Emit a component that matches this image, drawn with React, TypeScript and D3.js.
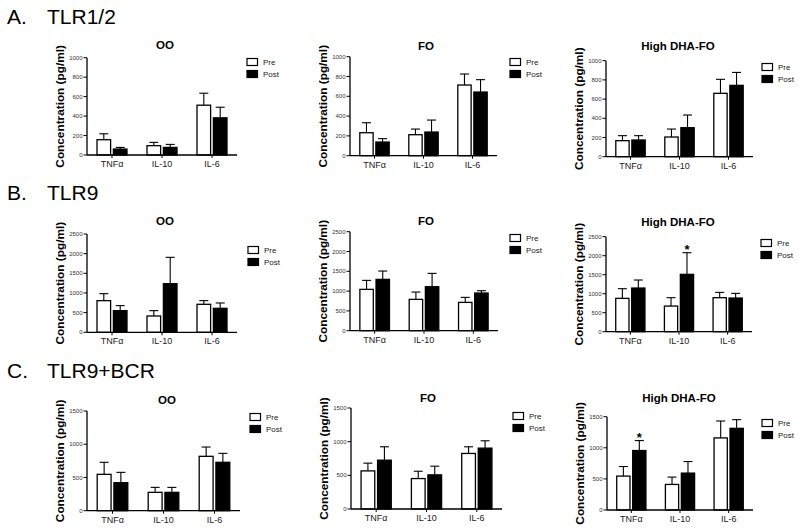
import React from 'react';
import * as d3 from 'd3';

// ---------- data ----------
const categories = ['TNFα', 'IL-10', 'IL-6'];
const seriesNames = ['Pre', 'Post'];
const dietTitles = ['OO', 'FO', 'High DHA-FO'];
const sectionLetters = ['A.', 'B.', 'C.'];
const sectionNames = ['TLR1/2', 'TLR9', 'TLR9+BCR'];
const yMax = [1000, 2500, 1500];
const yTickStep = [200, 500, 500];

// values indexed [diet][category]; diet order: OO, FO, High DHA-FO
const tlr12PreMean = [[157, 96, 512], [232, 212, 714], [167, 205, 660]];
const tlr12PreSem = [[61, 34, 123], [101, 57, 111], [52, 83, 146]];
const tlr12PostMean = [[61, 78, 382], [138, 239, 643], [174, 302, 743]];
const tlr12PostSem = [[17, 31, 109], [34, 121, 125], [45, 132, 135]];

const tlr9PreMean = [[805, 415, 712], [1044, 791, 715], [877, 675, 895]];
const tlr9PreSem = [[178, 136, 93], [227, 185, 127], [255, 220, 140]];
const tlr9PostMean = [[551, 1237, 610], [1296, 1111, 951], [1149, 1509, 886]];
const tlr9PostSem = [[127, 670, 136], [211, 337, 59], [211, 570, 123]];

const bcrPreMean = [[547, 276, 818], [566, 452, 825], [545, 411, 1159]];
const bcrPreSem = [[181, 75, 140], [115, 109, 99], [154, 118, 272]];
const bcrPostMean = [[421, 276, 728], [725, 507, 904], [956, 593, 1313]];
const bcrPostSem = [[156, 75, 135], [199, 129, 109], [160, 186, 139]];

// significance marks (section, diet, category, series)
const sigSection = [1, 2];
const sigDiet = [2, 2];
const sigCategory = [1, 0];
const sigSeries = [1, 1];

const meansBySection = [
  [tlr12PreMean, tlr12PostMean],
  [tlr9PreMean, tlr9PostMean],
  [bcrPreMean, bcrPostMean],
];
const semsBySection = [
  [tlr12PreSem, tlr12PostSem],
  [tlr9PreSem, tlr9PostSem],
  [bcrPreSem, bcrPostSem],
];

// ---------- layout ----------
const sectionBaselines = [24, 200, 378];
const layout = [
  [
    { x0: 87, x1: 237, yTop: 57.7, yZero: 155, legX: 247, legY: 62, titleY: 49, titleX: 165 },
    { x0: 350, x1: 497, yTop: 56.7, yZero: 155.7, legX: 510, legY: 62, titleY: 50, titleX: 426 },
    { x0: 606, x1: 753, yTop: 60.7, yZero: 156.7, legX: 762, legY: 67, titleY: 50, titleX: 678 },
  ],
  [
    { x0: 87, x1: 237, yTop: 234, yZero: 332.3, legX: 248, legY: 250, titleY: 225, titleX: 165 },
    { x0: 350, x1: 498, yTop: 231.7, yZero: 330.7, legX: 510, legY: 238, titleY: 225, titleX: 426 },
    { x0: 606, x1: 752, yTop: 236.7, yZero: 331.7, legX: 761, legY: 243, titleY: 225.5, titleX: 678 },
  ],
  [
    { x0: 87, x1: 240, yTop: 411, yZero: 510.7, legX: 250, legY: 417, titleY: 404, titleX: 167 },
    { x0: 351, x1: 502, yTop: 408, yZero: 509, legX: 513, legY: 416, titleY: 402, titleX: 428 },
    { x0: 607, x1: 753, yTop: 416.7, yZero: 510, legX: 762, legY: 423, titleY: 401.5, titleX: 679 },
  ],
];

const FONT = "'Liberation Sans', Arial, Helvetica, sans-serif";

function Panel({ s, d }: { s: number; d: number }) {
  const L = layout[s][d];
  const y = d3.scaleLinear().domain([0, yMax[s]]).range([L.yZero, L.yTop]);
  const x = d3.scaleBand<string>().domain(categories).range([L.x0, L.x1]).paddingInner(0.4).paddingOuter(0.2);
  const xs = d3.scaleBand<string>().domain(seriesNames).range([0, x.bandwidth()]).paddingInner(0.17);
  const ticks = d3.range(0, yMax[s] + 1, yTickStep[s]);
  const capHalf = 4.5;

  const stars = sigSection
    .map((sec, i) => ({ sec, diet: sigDiet[i], cat: sigCategory[i], ser: sigSeries[i] }))
    .filter((m) => m.sec === s && m.diet === d);

  return (
    <g>
      {/* title */}
      <text x={L.titleX} y={L.titleY} textAnchor="middle" fontSize={11.5} fontWeight="bold" fontFamily={FONT}>
        {dietTitles[d]}
      </text>
      {/* y label */}
      <text
        transform={`translate(${L.x0 - 23},${(L.yTop + L.yZero) / 2}) rotate(-90)`}
        textAnchor="middle"
        fontSize={11.8}
        fontWeight="bold"
        fontFamily={FONT}
      >
        Concentration (pg/ml)
      </text>
      {/* bars */}
      {categories.map((c, ci) =>
        seriesNames.map((sn, si) => {
          const m = meansBySection[s][si][d][ci];
          const e = semsBySection[s][si][d][ci];
          const bx = (x(c) as number) + (xs(sn) as number);
          const bw = xs.bandwidth();
          const cx = bx + bw / 2;
          return (
            <g key={c + sn}>
              <line x1={cx} x2={cx} y1={y(m)} y2={y(m + e)} stroke="#000" strokeWidth={1.1} />
              <line x1={cx - capHalf} x2={cx + capHalf} y1={y(m + e)} y2={y(m + e)} stroke="#000" strokeWidth={1.1} />
              <rect
                x={bx}
                y={y(m)}
                width={bw}
                height={y(0) - y(m)}
                fill={si === 0 ? '#fff' : '#000'}
                stroke="#000"
                strokeWidth={1.3}
              />
            </g>
          );
        })
      )}
      {/* significance */}
      {stars.map((m, i) => {
        const c = categories[m.cat];
        const sn = seriesNames[m.ser];
        const cx = (x(c) as number) + (xs(sn) as number) + xs.bandwidth() / 2;
        const top = meansBySection[s][m.ser][d][m.cat] + semsBySection[s][m.ser][d][m.cat];
        return (
          <text key={i} x={cx} y={y(top) + 1.5} textAnchor="middle" fontSize={13} fontWeight="bold" fontFamily={FONT}>
            *
          </text>
        );
      })}
      {/* y axis */}
      <line x1={L.x0} x2={L.x0} y1={L.yTop} y2={L.yZero} stroke="#000" strokeWidth={1.3} />
      {ticks.map((t) => (
        <g key={t}>
          <line x1={L.x0 - 3.5} x2={L.x0} y1={y(t)} y2={y(t)} stroke="#000" strokeWidth={1} />
          <text x={L.x0 - 4.5} y={y(t)} dy="0.35em" textAnchor="end" fontSize={6} fill="#333" fontFamily={FONT}>
            {t}
          </text>
        </g>
      ))}
      {/* x axis */}
      <line x1={L.x0} x2={L.x1} y1={L.yZero} y2={L.yZero} stroke="#000" strokeWidth={1.3} />
      {categories.map((c) => {
        const cx = (x(c) as number) + x.bandwidth() / 2;
        return (
          <g key={c}>
            <line x1={cx} x2={cx} y1={L.yZero} y2={L.yZero + 3} stroke="#000" strokeWidth={1} />
            <text x={cx} y={L.yZero + 12} textAnchor="middle" fontSize={9} fill="#222" fontFamily={FONT}>
              {c}
            </text>
          </g>
        );
      })}
      {/* legend */}
      {seriesNames.map((sn, si) => {
        const ly = L.legY + si * 12;
        return (
          <g key={sn}>
            <rect x={L.legX} y={ly - 3.5} width={10.5} height={7} fill={si === 0 ? '#fff' : '#000'} stroke="#000" strokeWidth={1.2} />
            <text x={L.legX + 16} y={ly} dy="0.35em" fontSize={8} fill="#222" fontFamily={FONT}>
              {sn}
            </text>
          </g>
        );
      })}
    </g>
  );
}

export default function App() {
  return (
    <svg
      width={800}
      height={532}
      viewBox="0 0 800 532"
      style={{ position: 'absolute', left: 0, top: 0, background: '#fff' }}
    >
      <rect x={0} y={0} width={800} height={532} fill="#fff" />
      {sectionLetters.map((lt, s) => (
        <g key={lt}>
          <text x={7} y={sectionBaselines[s]} fontSize={21} fontFamily={FONT}>
            {lt}
          </text>
          <text x={47} y={sectionBaselines[s]} fontSize={21} fontFamily={FONT}>
            {sectionNames[s]}
          </text>
          {dietTitles.map((_, d) => (
            <Panel key={d} s={s} d={d} />
          ))}
        </g>
      ))}
    </svg>
  );
}
